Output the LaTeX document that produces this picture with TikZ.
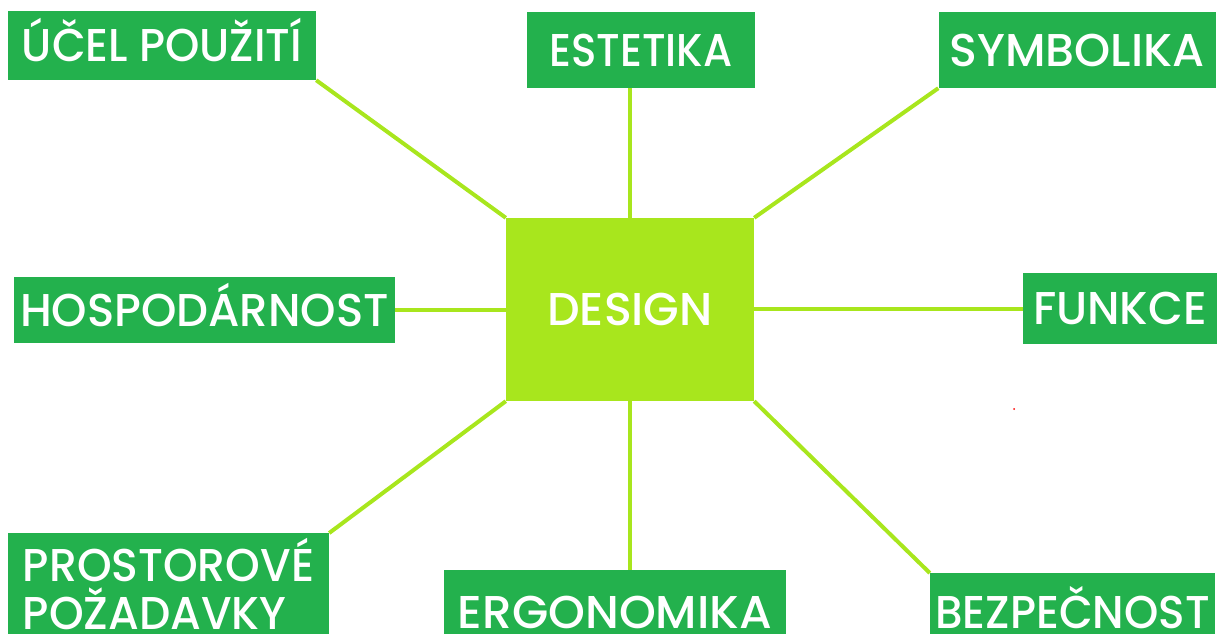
\documentclass[tikz,border=0pt]{standalone}
\usepackage{fontspec}
\IfFontExistsTF{Poppins Medium}{\setmainfont{Poppins Medium}}{\setmainfont{Poppins}}
\usetikzlibrary{positioning}
\definecolor{boxgreen}{HTML}{23B14D}
\definecolor{limegreen}{HTML}{A8E61D}
% squeeze a label sideways
\newcommand{\narrow}[2]{\scalebox{#1}[1]{#2}}

\begin{document}
\begin{tikzpicture}[x=1pt, y=-1pt,
	tag/.style={fill=boxgreen, text=white, inner sep=0pt,
		font=\fontsize{46}{48}\selectfont, text height=32pt, text depth=0pt},
	core/.style={tag, fill=limegreen},
	link/.style={draw=limegreen, line width=4pt}]

\useasboundingbox (0,0) rectangle (1219,633);
\clip (0,0) rectangle (1219,633);

%========================
% centre
%========================
\node[core, minimum width=248pt, minimum height=183pt] (design) at (630,309.5) {DESIGN};

%========================
% top row
%========================
\node[tag, minimum width=308pt, minimum height=69pt] (ucel) at (162,45.5) {\narrow{0.95}{ÚČEL POUŽITÍ}};
\node[tag, minimum width=228pt, minimum height=76pt] (estetika) at (641,50) {\narrow{0.91}{ESTETIKA}};
\node[tag, minimum width=277pt, minimum height=76pt] (symbolika) at (1077,50) {SYMBOLIKA};

%========================
% middle row
%========================
\node[tag, minimum width=381pt, minimum height=66pt] (hospodarnost) at (204.5,310) {\narrow{0.98}{HOSPODÁRNOST}};
\node[tag, minimum width=194pt, minimum height=71pt] (funkce) at (1120,308.5) {\narrow{0.98}{FUNKCE}};

%========================
% bottom row (cut by the lower edge)
%========================
\node[tag, minimum width=321pt, minimum height=112pt, anchor=north, align=left,
	text height=80pt] (prostor) at (168.5,533)
	{\narrow{0.96}{PROSTOROVÉ}\\\narrow{0.96}{POŽADAVKY}};
\node[tag, minimum width=342pt, minimum height=84pt, anchor=north] (ergonomika) at (615,570) {\narrow{1.02}{ERGONOMIKA}};
\node[tag, minimum width=285pt, minimum height=78pt, anchor=north] (bezpecnost) at (1072.5,573) {\narrow{0.95}{BEZPEČNOST}};

% spokes
\draw[link] (ucel.south east) -- (design.north west);
\draw[link] (design.north) -- (design.north |- estetika.south);
\draw[link] (symbolika.south west) -- (design.north east);
\draw[link] (hospodarnost.east) -- (hospodarnost.east -| design.west);
\draw[link] (funkce.west) -- (funkce.west -| design.east);
\draw[link] (prostor.north east) -- (design.south west);
\draw[link] (design.south) -- (design.south |- ergonomika.north);
\draw[link] (bezpecnost.north west) -- (design.south east);

\fill[red] (1014,409) circle (1);
\end{tikzpicture}
\end{document}
